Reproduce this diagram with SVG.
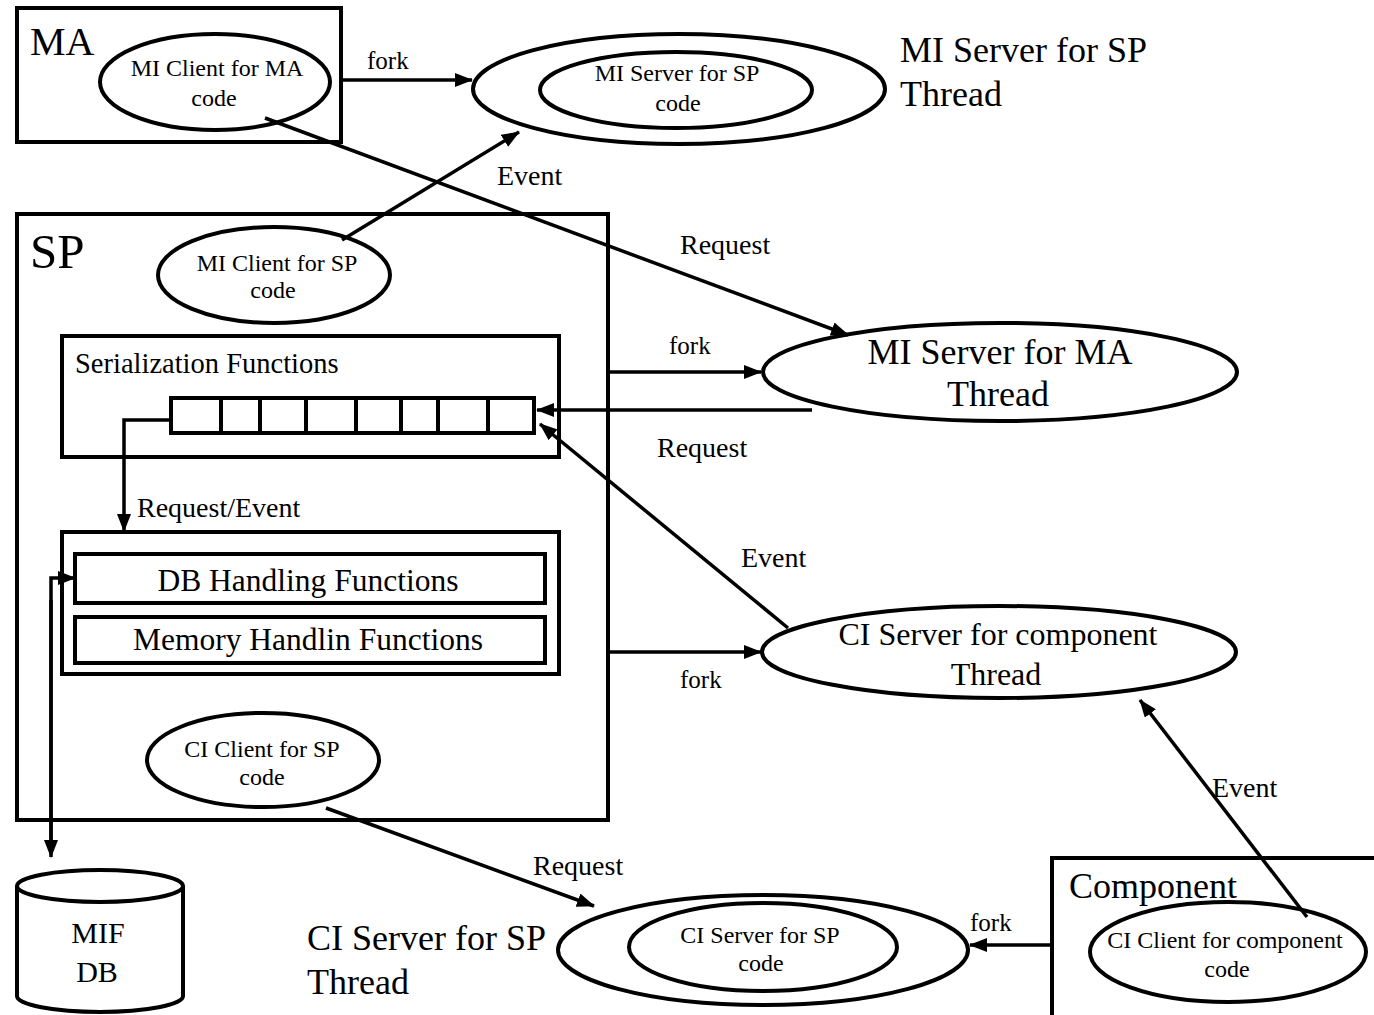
<svg xmlns="http://www.w3.org/2000/svg" width="1374" height="1015" viewBox="0 0 1374 1015">
<style>
text{font-family:"Liberation Serif","Times New Roman",serif;fill:#000}
.box{fill:none;stroke:#000;stroke-width:4}
.el{fill:#fff;stroke:#000;stroke-width:4}
.con{fill:none;stroke:#000;stroke-width:3.5}
.in{font-size:24px}
.fork{font-size:25px}
.lab{font-size:28px}
.fn{font-size:31.5px}
.big{font-size:36px}
.mid{text-anchor:middle}
</style>
<defs>
<marker id="ah" markerUnits="userSpaceOnUse" markerWidth="18" markerHeight="14" refX="17" refY="7" orient="auto">
<path d="M0,0 L18,7 L0,14 z" fill="#000"/>
</marker>
</defs>
<rect width="1374" height="1015" fill="#fff"/>

<g id="MA">
<rect class="box" x="17" y="8" width="324" height="134"/>
<text x="30" y="55" font-size="40">MA</text>
</g>
<g id="MIClientMA">
<ellipse class="el" cx="215" cy="82" rx="115" ry="48"/>
<text class="in mid" x="217" y="76">MI Client for MA</text>
<text class="in mid" x="214" y="106">code</text>
</g>

<g id="MIServerSPThread">
<ellipse class="el" cx="679" cy="89" rx="206" ry="55"/>
<ellipse class="el" cx="676" cy="90" rx="136" ry="38"/>
<text class="in mid" x="677" y="81">MI Server for SP</text>
<text class="in mid" x="678" y="111">code</text>
<text class="big" x="900" y="62">MI Server for SP</text>
<text class="big" x="900" y="106">Thread</text>
</g>

<g id="SP">
<rect class="box" x="17" y="214" width="591" height="606"/>
<text x="30" y="268" font-size="49">SP</text>
</g>
<g id="MIClientSP">
<ellipse class="el" cx="274" cy="275" rx="116" ry="48"/>
<text class="in mid" x="277" y="271">MI Client for SP</text>
<text class="in mid" x="273" y="298">code</text>
</g>
<g id="Serialization">
<rect class="box" x="62" y="336" width="497" height="121"/>
<text x="75" y="373" font-size="28.5">Serialization Functions</text>
<rect class="box" x="171" y="398" width="363" height="35"/>
<path class="box" d="M221,398V433M260,398V433M306,398V433M356,398V433M401,398V433M438,398V433M488,398V433"/>
</g>
<g id="Functions">
<rect class="box" x="62" y="532" width="497" height="142"/>
<rect class="box" x="75" y="554" width="470" height="49"/>
<text class="fn mid" x="308" y="591">DB Handling Functions</text>
<rect class="box" x="75" y="617" width="470" height="46"/>
<text class="fn mid" x="308" y="650">Memory Handlin Functions</text>
</g>
<g id="CIClientSP">
<ellipse class="el" cx="263" cy="760" rx="116" ry="47"/>
<text class="in mid" x="262" y="757">CI Client for SP</text>
<text class="in mid" x="262" y="785">code</text>
</g>

<g id="MIServerMA">
<ellipse class="el" cx="1000" cy="372" rx="237" ry="49"/>
<text class="big mid" x="1000" y="364">MI Server for MA</text>
<text class="big mid" x="998" y="406">Thread</text>
</g>
<g id="CIServerComponent">
<ellipse class="el" cx="999" cy="652" rx="237" ry="46"/>
<text class="mid" x="998" y="645" font-size="32">CI Server for component</text>
<text class="mid" x="996" y="685" font-size="32">Thread</text>
</g>

<g id="MIFDB">
<path class="el" d="M17,886 V996 A83,16 0 0 0 183,996 V886 A83,16 0 0 0 17,886 A83,16 0 0 0 183,886"/>
<text class="mid" x="98" y="943" font-size="30">MIF</text>
<text class="mid" x="97" y="982" font-size="30">DB</text>
</g>

<g id="CIServerSPThread">
<ellipse class="el" cx="763" cy="950" rx="205" ry="55"/>
<ellipse class="el" cx="763" cy="947" rx="134" ry="44"/>
<text class="in mid" x="760" y="943">CI Server for SP</text>
<text class="in mid" x="761" y="971">code</text>
<text class="big" x="307" y="950">CI Server for SP</text>
<text class="big" x="307" y="994">Thread</text>
</g>

<g id="Component">
<rect class="box" x="1052" y="858" width="340" height="180"/>
<text class="big" x="1069" y="898">Component</text>
</g>
<g id="CIClientComponent">
<ellipse class="el" cx="1228" cy="952" rx="138" ry="50"/>
<text class="in mid" x="1225" y="948">CI Client for component</text>
<text class="in mid" x="1227" y="977">code</text>
</g>

<g id="connectors">
<line class="con" x1="341" y1="80" x2="472" y2="80" marker-end="url(#ah)"/>
<line class="con" x1="342" y1="240" x2="519" y2="132" marker-end="url(#ah)"/>
<line class="con" x1="265" y1="118" x2="848" y2="335" marker-end="url(#ah)"/>
<line class="con" x1="608" y1="372" x2="761" y2="372" marker-end="url(#ah)"/>
<line class="con" x1="812" y1="410" x2="537" y2="410" marker-end="url(#ah)"/>
<line class="con" x1="788" y1="628" x2="540" y2="424" marker-end="url(#ah)"/>
<polyline class="con" points="171,420 124,420 124,531" marker-end="url(#ah)"/>
<polyline class="con" points="51,848 51,578 75,578" marker-end="url(#ah)"/>
<line class="con" x1="51" y1="600" x2="51" y2="857" marker-end="url(#ah)"/>
<line class="con" x1="608" y1="652" x2="761" y2="652" marker-end="url(#ah)"/>
<line class="con" x1="326" y1="808" x2="594" y2="906" marker-end="url(#ah)"/>
<line class="con" x1="1052" y1="945" x2="970" y2="945" marker-end="url(#ah)"/>
<line class="con" x1="1307" y1="917" x2="1140" y2="700" marker-end="url(#ah)"/>
</g>

<g id="labels">
<text class="fork" x="367" y="69">fork</text>
<text class="lab" x="497" y="185">Event</text>
<text class="lab" x="680" y="254">Request</text>
<text class="fork" x="669" y="354">fork</text>
<text class="lab" x="657" y="457">Request</text>
<text class="lab" x="137" y="517">Request/Event</text>
<text class="lab" x="741" y="567">Event</text>
<text class="fork" x="680" y="688">fork</text>
<text class="lab" x="1212" y="797">Event</text>
<text class="lab" x="533" y="875">Request</text>
<text class="fork" x="970" y="931">fork</text>
</g>
</svg>
